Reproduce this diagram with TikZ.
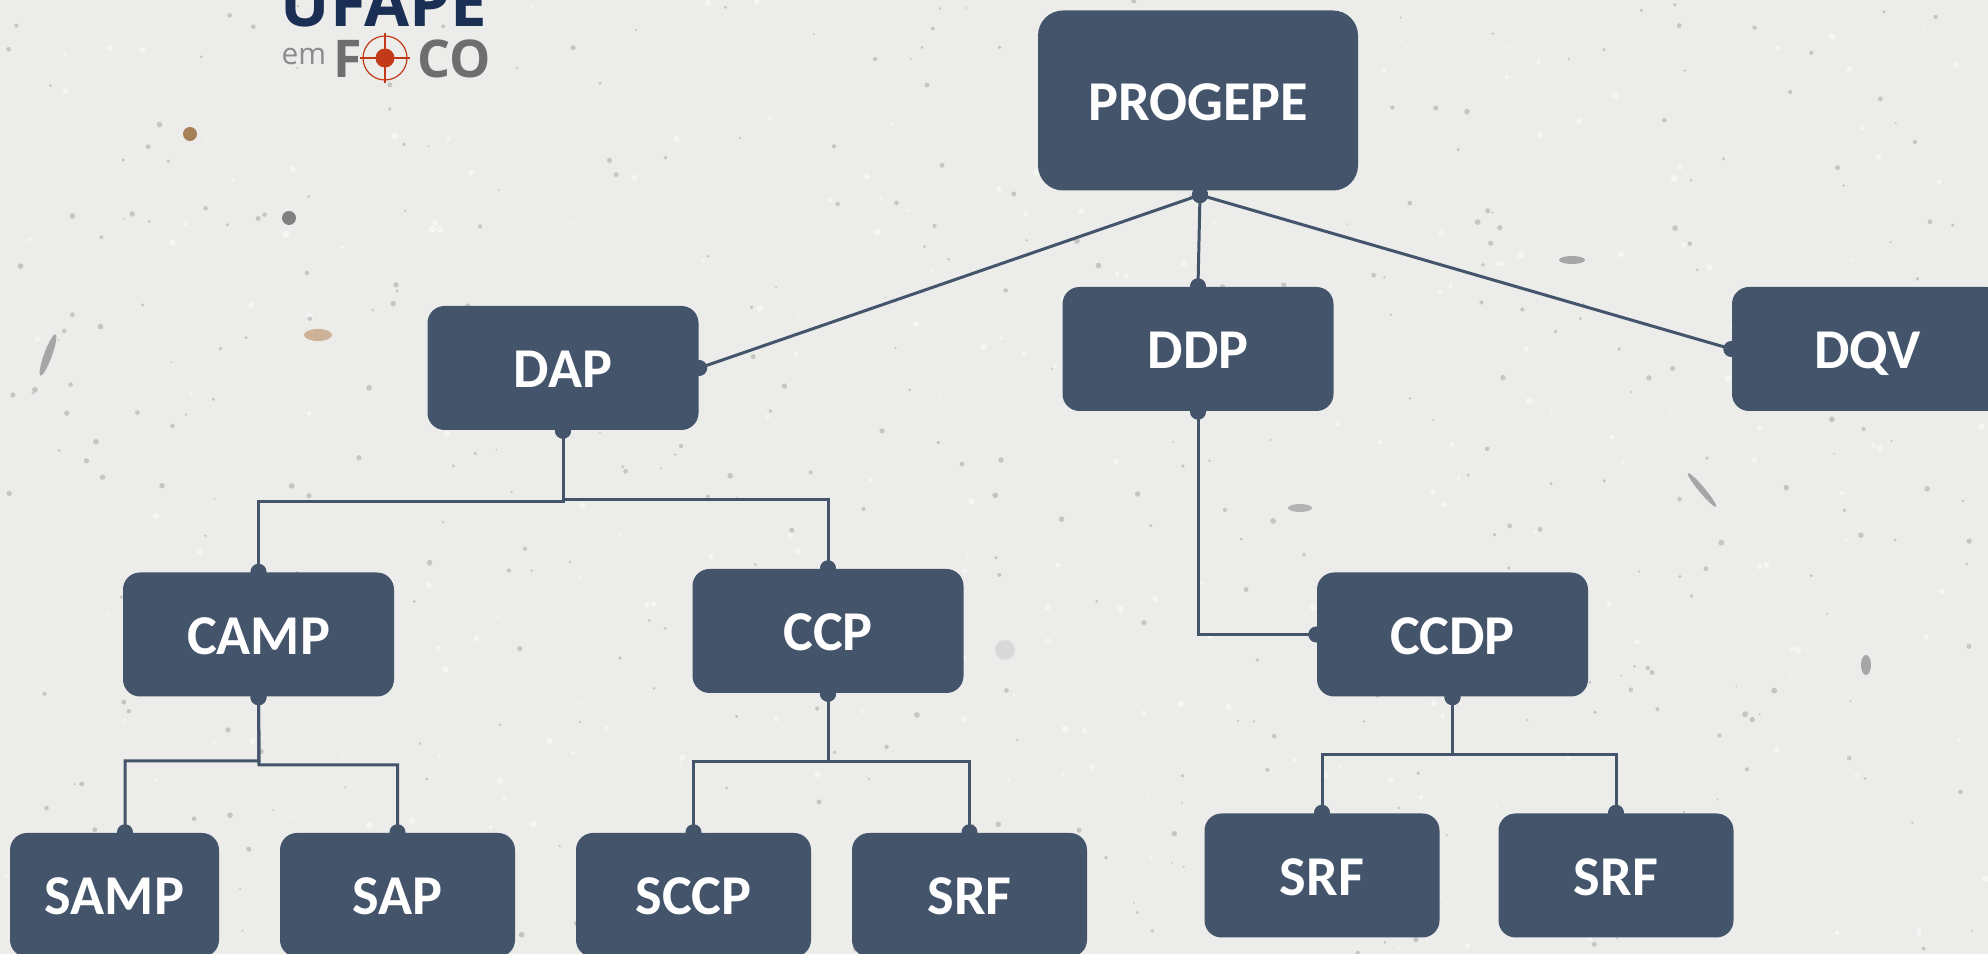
\documentclass[tikz,border=0pt]{standalone}
\usepackage{fontspec}
\setmainfont{Carlito}
\newfontfamily\logofont{Open Sans}
\usetikzlibrary{arrows.meta}
\definecolor{boxblue}{HTML}{44546A}
\definecolor{wallgray}{HTML}{ECECEA}
\definecolor{logonavy}{HTML}{1B2F55}
\definecolor{logogray}{HTML}{6E6E6E}
\definecolor{logored}{HTML}{C23A17}

\begin{document}
\begin{tikzpicture}[
    box/.style={rectangle, rounded corners=0.17cm, minimum width=2.71cm, minimum height=1.24cm, inner sep=0pt, fill=boxblue, text=white, font=\fontsize{16}{16}\selectfont\bfseries, text height=0.40cm, text depth=0cm},
    leaf/.style={box, minimum width=2.35cm},
    link/.style={draw=boxblue, line width=0.03cm, {Circle[length=0.16cm]}-{Circle[length=0.16cm]}, shorten <=-0.08cm, shorten >=-0.08cm},
    speck/.style={fill=#1, draw=none}]
    \useasboundingbox (0,0) rectangle (19.88,-9.54);
    \fill[wallgray] (0,0) rectangle (19.88,-9.54);

    % wall texture
    \pgfmathsetseed{4711}
    \foreach \i in {1,...,300} {
        \pgfmathsetmacro\sx{rnd*19.88}
        \pgfmathsetmacro\sy{-rnd*9.54}
        \pgfmathsetmacro\sr{0.3+rnd*0.7}
        \fill[white, opacity=0.5] (\sx,\sy) circle (\sr pt);
    }
    \foreach \i in {1,...,420} {
        \pgfmathsetmacro\sx{rnd*19.88}
        \pgfmathsetmacro\sy{-rnd*9.54}
        \pgfmathsetmacro\sr{0.25+rnd*0.6}
        \fill[black!45, opacity=0.4] (\sx,\sy) circle (\sr pt);
    }
    \fill[speck=brown!60!gray] (1.90,-1.34) circle (0.07);
    \fill[speck=gray] (2.89,-2.18) circle (0.07);
    \fill[speck=orange!35!gray!60] (3.18,-3.35) ellipse (0.14 and 0.06);
    \fill[speck=gray!70, rotate around={70:(0.48,-3.55)}] (0.48,-3.55) ellipse (0.22 and 0.04);
    \fill[speck=gray!30] (10.05,-6.50) circle (0.10);
    \fill[speck=gray!70] (15.72,-2.60) ellipse (0.13 and 0.04);
    \fill[speck=gray!70, rotate around={-50:(17.02,-4.90)}] (17.02,-4.90) ellipse (0.22 and 0.03);
    \fill[speck=gray!70] (18.66,-6.65) ellipse (0.05 and 0.10);
    \fill[speck=gray!60] (13.00,-5.08) ellipse (0.12 and 0.04);

    % logo
    \node[inner sep=0pt, anchor=base west, text=logonavy, font=\logofont\fontsize{18.6}{18.6}\selectfont\bfseries] (ufape) at (2.80,-0.27) {UFAPE};
    \node[inner sep=0pt, anchor=base west, text=logogray!80, font=\logofont\fontsize{8.5}{8.5}\selectfont] (em) at (2.81,-0.65) {em};
    \node[inner sep=0pt, anchor=base west, text=logogray, font=\logofont\fontsize{14.8}{14.8}\selectfont\bfseries] (foco) at (3.33,-0.78) {F};
    \node[inner sep=0pt, anchor=base west, text=logogray, font=\logofont\fontsize{14.8}{14.8}\selectfont\bfseries] (co) at (4.17,-0.78) {CO};
    \coordinate (target) at (3.85,-0.58);
    \draw[logored, line width=0.012cm] (target) circle (0.22);
    \draw[logored, line width=0.012cm] (3.60,-0.58) -- (4.10,-0.58);
    \draw[logored, line width=0.012cm] (3.85,-0.33) -- (3.85,-0.83);
    \fill[logored] (target) circle (0.095);

    \node[box, minimum width=3.20cm, minimum height=1.80cm, rounded corners=0.25cm] (progepe) at (11.98,-1.005) {PROGEPE};
    \node[box] (dap) at (5.63,-3.68) {DAP};
    \node[box] (ddp) at (11.98,-3.49) {DDP};
    \node[box] (dqv) at (18.675,-3.49) {DQV};
    \node[box] (camp) at (2.585,-6.345) {CAMP};
    \node[box] (ccp) at (8.28,-6.31) {CCP};
    \node[box] (ccdp) at (14.525,-6.345) {CCDP};
    \node[leaf, minimum width=2.09cm] (samp) at (1.145,-8.95) {SAMP};
    \node[leaf] (sap) at (3.975,-8.95) {SAP};
    \node[leaf] (sccp) at (6.935,-8.95) {SCCP};
    \node[leaf] (srfa) at (9.695,-8.95) {SRF};
    \node[leaf] (srfb) at (13.22,-8.755) {SRF};
    \node[leaf] (srfc) at (16.16,-8.755) {SRF};

    \coordinate (progepedot) at (12.00,-1.95);
    \coordinate (dapleft) at (5.63,-5.02);
    \coordinate (dapright) at (5.63,-5.00);
    \coordinate (campleft) at (2.59,-7.61);
    \coordinate (campright) at (2.59,-7.65);
    \coordinate (ccpjoin) at (8.28,-7.62);
    \coordinate (ccdpjoin) at (14.525,-7.55);

    \draw[link] (progepedot) -- (dap.east);
    \draw[link] (progepedot) -- (ddp.north);
    \draw[link] (progepedot) -- (dqv.west);
    \draw[link] (dap.south) -- (dapleft) -| (camp.north);
    \draw[link] (dap.south) -- (dapright) -| (ccp.north);
    \draw[link] (ddp.south) |- (ccdp.west);
    \draw[link] (camp.south) -- (campleft) -| ([xshift=0.105cm]samp.north);
    \draw[link] (camp.south) -- (campright) -| (sap.north);
    \draw[link] (ccp.south) -- (ccpjoin) -| (sccp.north);
    \draw[link] (ccp.south) -- (ccpjoin) -| (srfa.north);
    \draw[link] (ccdp.south) -- (ccdpjoin) -| (srfb.north);
    \draw[link] (ccdp.south) -- (ccdpjoin) -| (srfc.north);
\end{tikzpicture}
\end{document}
